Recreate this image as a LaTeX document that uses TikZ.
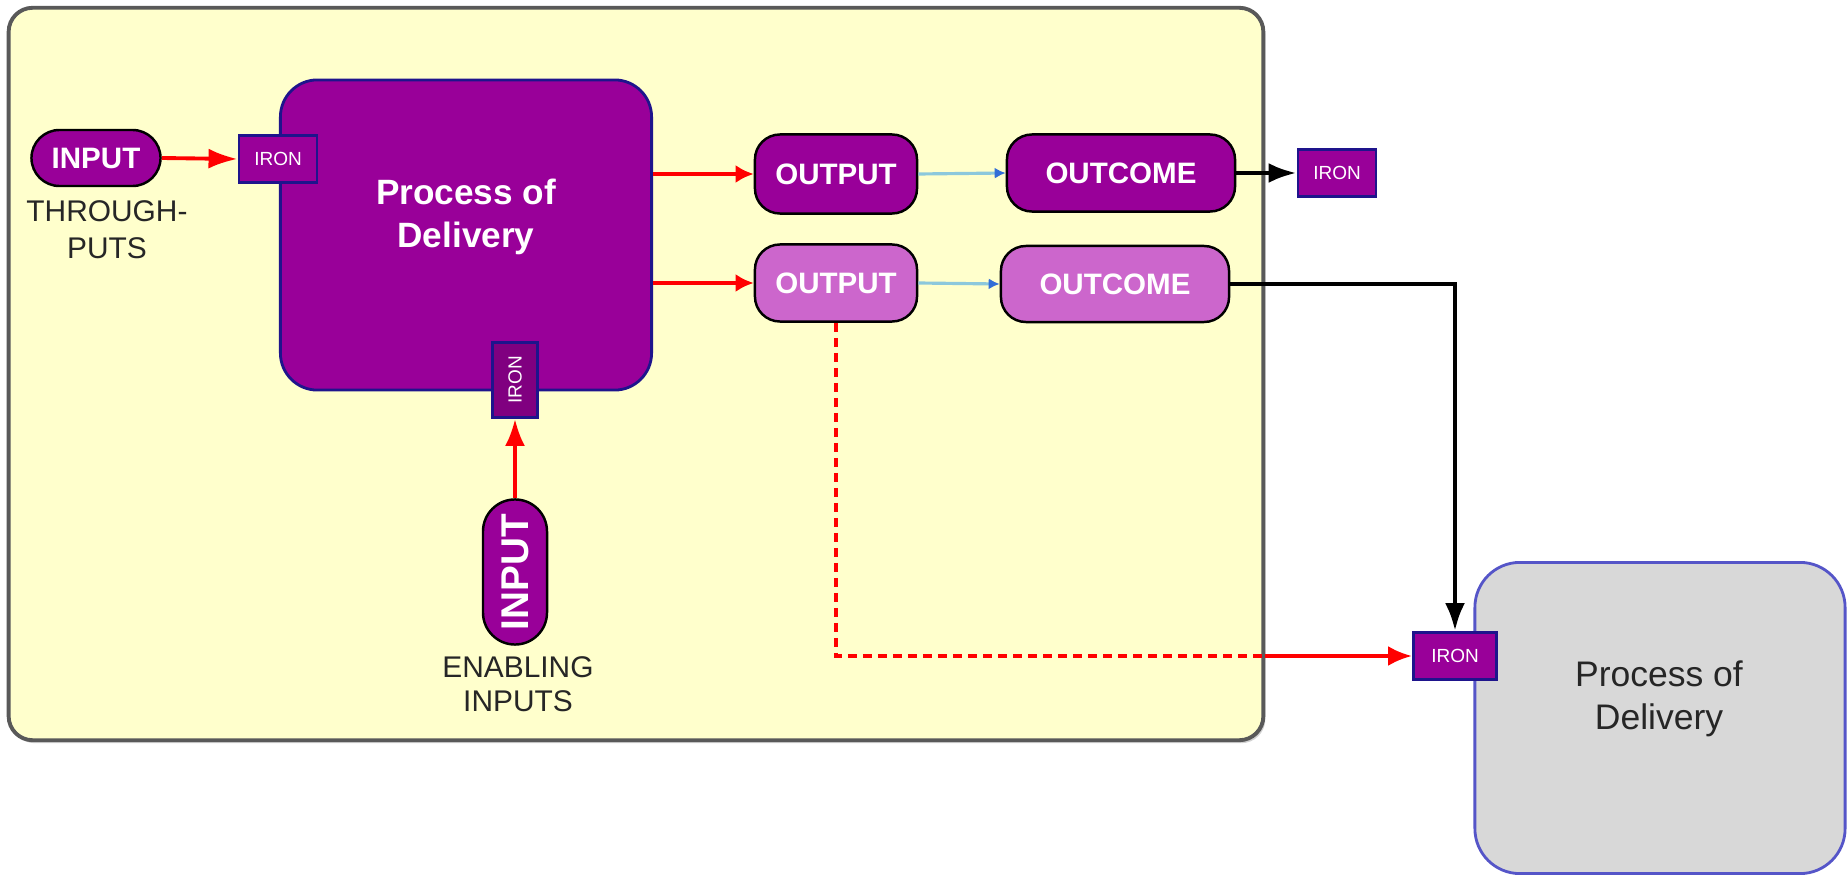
\documentclass[tikz,border=0pt]{standalone}
\usepackage{fontspec}
\setmainfont{Liberation Sans}
\usepackage{xcolor}
\usepackage{tikz}
\usetikzlibrary{arrows.meta, positioning, shadows}

\definecolor{deeppurple}{RGB}{153,0,153}
\definecolor{darkpurple}{RGB}{128,0,128}
\definecolor{lightpurple}{RGB}{204,102,204}
\definecolor{paleyellow}{RGB}{255,255,204}
\definecolor{navyline}{RGB}{30,20,140}
\definecolor{greyproc}{RGB}{216,216,216}
\definecolor{greyedge}{RGB}{85,85,200}
\definecolor{flowblue}{RGB}{140,200,220}
\definecolor{tipblue}{RGB}{50,110,215}

\begin{document}
\begin{tikzpicture}[
        x=0.01cm, y=-0.01cm,
        systembox/.style={
            rectangle,
            rounded corners=0.24cm,
            draw=black!65,
            line width=1.1pt,
            fill=paleyellow,
            minimum width=12.54cm,
            minimum height=7.32cm,
            drop shadow={shadow xshift=0.02cm, shadow yshift=-0.03cm, fill=black!35}
        },
        process/.style={
            rectangle,
            rounded corners=0.37cm,
            draw=navyline,
            line width=0.8pt,
            fill=deeppurple,
            minimum width=3.71cm,
            minimum height=3.10cm
        },
        processgrey/.style={
            rectangle,
            rounded corners=0.45cm,
            draw=greyedge,
            line width=0.8pt,
            fill=greyproc,
            minimum width=3.70cm,
            minimum height=3.11cm
        },
        proctext/.style={
            align=center,
            font=\bfseries\fontsize{10}{12.4}\selectfont,
            text=white,
            inner sep=0pt
        },
        pill/.style={
            rectangle,
            draw=black,
            line width=0.7pt,
            fill=deeppurple,
            text=white,
            inner sep=0pt,
            font=\bfseries\fontsize{8.4}{10}\selectfont
        },
        iron/.style={
            rectangle,
            draw=navyline,
            line width=0.8pt,
            fill=deeppurple,
            text=white,
            inner sep=0pt,
            minimum width=0.78cm,
            minimum height=0.47cm,
            font=\fontsize{5.4}{6}\selectfont
        },
        note/.style={
            align=center,
            text=black!85,
            inner sep=0pt
        },
        redarrow/.style={
            -{Latex[length=1.8mm,width=1.8mm]},
            draw=red,
            line width=1.1pt
        },
        reddash/.style={
            draw=red,
            line width=1.1pt,
            dash pattern=on 0.09cm off 0.06cm
        },
        bluearrow/.style={
            -{Latex[length=1.1mm,width=1.1mm,color=tipblue]},
            draw=flowblue,
            line width=0.9pt
        },
        blackarrow/.style={
            -{Latex[length=2.8mm,width=2.0mm]},
            draw=black,
            line width=1.3pt
        }
    ]

    \useasboundingbox (0,0) rectangle (1847,876);

    % organisation boundary
    \node[systembox] (system) at (636,374) {};

    % first process of delivery
    \node[process] (proc) at (466,235) {};
    \node[proctext] (proctitle) at (466,217) {Process of\\Delivery};

    \node[pill, rounded corners=0.28cm, minimum width=1.29cm,
          minimum height=0.56cm] (inthrough) at (96,158) {INPUT};
    \node[note, font=\fontsize{8.5}{10.5}\selectfont] (through) at (107,230)
        {THROUGH-\\PUTS};

    \node[iron] (ironthrough) at (278,159) {IRON};
    \node[iron, rotate=90, minimum width=0.75cm, minimum height=0.45cm,
          fill=darkpurple] (ironenable) at (515,380) {IRON};

    \node[pill, rotate=90, rounded corners=0.32cm, minimum width=1.45cm,
          minimum height=0.64cm, font=\bfseries\fontsize{11}{12}\selectfont]
          (inenable) at (515,572) {INPUT};
    \node[note, font=\fontsize{8.5}{9.7}\selectfont] (enabling) at (518,684)
        {ENABLING\\INPUTS};

    % outputs and outcomes
    \node[pill, rounded corners=0.25cm, minimum width=1.62cm,
          minimum height=0.79cm] (outfirst) at (836,174) {OUTPUT};
    \node[pill, rounded corners=0.25cm, minimum width=2.28cm,
          minimum height=0.77cm] (outcfirst) at (1121,173) {OUTCOME};
    \node[iron] (ironout) at (1337,173) {IRON};

    \node[pill, rounded corners=0.25cm, minimum width=1.62cm,
          minimum height=0.77cm, fill=lightpurple] (outsecond) at (836,283) {OUTPUT};
    \node[pill, rounded corners=0.25cm, minimum width=2.28cm,
          minimum height=0.76cm, fill=lightpurple] (outcsecond) at (1115,284) {OUTCOME};

    % next process of delivery
    \node[processgrey] (procnext) at (1660,718) {};
    \node[proctext, font=\fontsize{10.1}{12.2}\selectfont, text=black!85]
        (procnexttitle) at (1659,699) {Process of\\Delivery};
    \node[iron, minimum width=0.83cm] (ironnext) at (1455,656) {IRON};

    % connectors
    \draw[redarrow, -{Latex[length=2.9mm,width=2.0mm]}]
        (inthrough.east) -- (ironthrough.west);
    \draw[redarrow, -{Latex[length=2.7mm,width=2.0mm]}]
        (inenable) -- (ironenable);
    \draw[redarrow] (proc.east |- outfirst) -- (outfirst.west);
    \draw[redarrow] (proc.east |- outsecond) -- (outsecond.west);

    \draw[bluearrow] (outfirst.east) -- (outcfirst.west);
    \draw[bluearrow] (outsecond.east) -- (outcsecond.west);

    \draw[blackarrow] (outcfirst.east) -- (ironout.west);
    \draw[blackarrow] (outcsecond.east) -| (ironnext.north);

    \coordinate (edge) at (system.east |- ironnext);
    \draw[reddash] (outsecond.south) |- (edge);
    \draw[redarrow, -{Latex[length=2.4mm,width=2.0mm]}] (edge) -- (ironnext.west);

\end{tikzpicture}
\end{document}
